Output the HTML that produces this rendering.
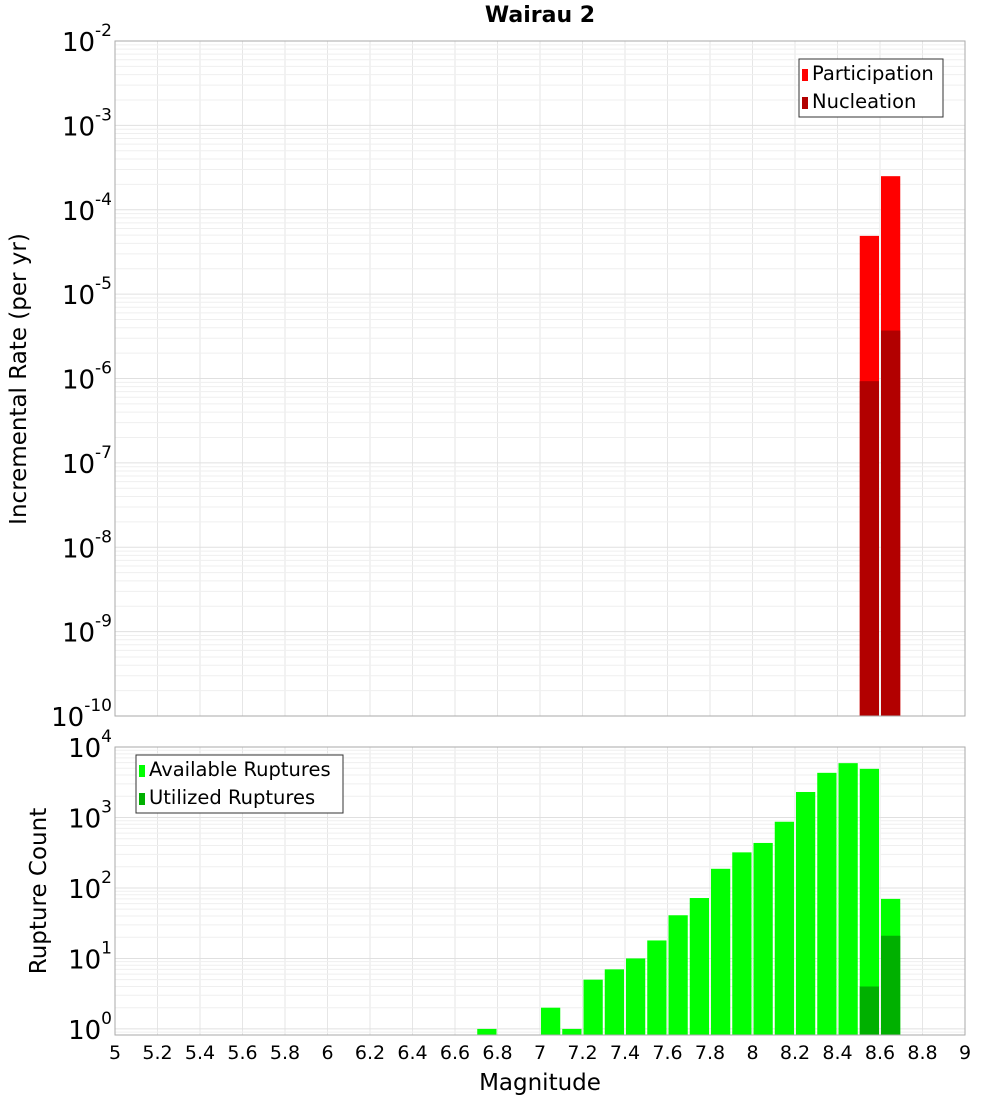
<!DOCTYPE html>
<html><head><meta charset="utf-8"><style>
body{margin:0;background:#fff;font-family:"Liberation Sans","DejaVu Sans",sans-serif}
svg text{font-family:"DejaVu Sans","Liberation Sans",sans-serif}
</style></head><body>
<svg id="c" width="1000" height="1100" xmlns="http://www.w3.org/2000/svg"></svg>
<script>
const topBins = [8.5, 8.6];
const participation = [4.9e-5, 2.5e-4];
const nucleation = [9.3e-7, 3.7e-6];
const botBins = [6.7, 7.0, 7.1, 7.2, 7.3, 7.4, 7.5, 7.6, 7.7, 7.8, 7.9, 8.0, 8.1, 8.2, 8.3, 8.4, 8.5, 8.6];
const available = [1, 2, 1, 5, 7, 10, 18, 41, 72, 187, 320, 435, 870, 2300, 4300, 5900, 4900, 70];
const utilBins = [8.5, 8.6];
const utilized = [4, 21];
const xTicks = ["5","5.2","5.4","5.6","5.8","6","6.2","6.4","6.6","6.8","7","7.2","7.4","7.6","7.8","8","8.2","8.4","8.6","8.8","9"];
const topDecades = [-10,-9,-8,-7,-6,-5,-4,-3,-2];
const botDecades = [0,1,2,3,4];

const NS="http://www.w3.org/2000/svg", svg=document.getElementById('c');
function mk(t,a,p){const e=document.createElementNS(NS,t);for(const k in a)e.setAttribute(k,a[k]);(p||svg).appendChild(e);return e;}
const X0=115,X1=965;
const x=m=>X0+(m-5)/4*(X1-X0);
const T={top:41,bot:716,lo:-10,hi:-2};
const B={top:747,bot:1035,lo:Math.log10(0.82),hi:4};
const yT=v=>T.bot-(Math.log10(v)-T.lo)/(T.hi-T.lo)*(T.bot-T.top);
const yB=v=>B.bot-(Math.log10(v)-B.lo)/(B.hi-B.lo)*(B.bot-B.top);

function grid(P,yf,decs){
  const g=mk('g',{});
  
  
  for(let i=0;i<xTicks.length;i++){const xx=x(+xTicks[i]);mk('line',{x1:xx,x2:xx,y1:P.top,y2:P.bot,stroke:'#e6e6e6','stroke-width':1},g);}
  for(let d=decs[0]-1;d<=decs[decs.length-1];d++){for(let k=1;k<10;k++){const v=k*Math.pow(10,d);const yy=yf(v);if(yy<P.top-0.5||yy>P.bot+0.5)continue;mk('line',{x1:X0,x2:X1,y1:yy,y2:yy,stroke:k==1?'#e0e0e0':'#efefef','stroke-width':1},g);}}
}
grid(T,yT,topDecades);
grid(B,yB,botDecades);

for(let i=0;i<topBins.length;i++){
  const x1=x(topBins[i])+1,w=x(topBins[i]+0.1)-x(topBins[i])-2;
  const r=mk('rect',{x:x1,y:yT(participation[i]),width:w,height:T.bot-yT(participation[i]),fill:'#ff0000'});
  
  
  const n=mk('rect',{x:x1,y:yT(nucleation[i]),width:w,height:T.bot-yT(nucleation[i]),fill:'#b20000'});
  
  
}
for(let i=0;i<botBins.length;i++){
  const x1=x(botBins[i])+1,w=x(botBins[i]+0.1)-x(botBins[i])-2;
  const r=mk('rect',{x:x1,y:yB(available[i]),width:w,height:B.bot-yB(available[i]),fill:'#00ff00'});
  
  
}
for(let i=0;i<utilBins.length;i++){
  const x1=x(utilBins[i])+1,w=x(utilBins[i]+0.1)-x(utilBins[i])-2;
  const r=mk('rect',{x:x1,y:yB(utilized[i]),width:w,height:B.bot-yB(utilized[i]),fill:'#00b000'});
  
  
}
for(const P of [T,B]){const f=mk('rect',{x:X0,y:P.top,width:X1-X0,height:P.bot-P.top,fill:'none',stroke:'#aaaaaa','stroke-width':1});
  
  }

function ylab(yy,d,name){
  const t=mk('text',{x:112,y:yy+10,'text-anchor':'end','font-size':26,fill:'#000'});
  
  
  t.textContent='10';
  const s=mk('tspan',{dy:-15,'font-size':17},t);s.textContent=String(d);
}
for(const d of topDecades){ylab(yT(Math.pow(10,d)),d,'y-tick-label');}
for(const d of botDecades){ylab(yB(Math.pow(10,d)),d,'y-tick-label');}
for(const t of xTicks){const e=mk('text',{x:x(+t),y:1059,'text-anchor':'middle','font-size':19,fill:'#000'});
  
  
  e.textContent=t;}
let e=mk('text',{x:540,y:22,'text-anchor':'middle','font-size':22,'font-weight':'bold'});


e.textContent='Wairau 2';
e=mk('text',{x:540,y:1090,'text-anchor':'middle','font-size':23});


e.textContent='Magnitude';
e=mk('text',{x:0,y:0,'text-anchor':'middle','font-size':23,transform:'translate(26,379) rotate(-90)'});


e.textContent='Incremental Rate (per yr)';
e=mk('text',{x:0,y:0,'text-anchor':'middle','font-size':23,transform:'translate(46,891) rotate(-90)'});


e.textContent='Rupture Count';

function legend(x0,y0,w,items,name){
  const g=mk('g',{});
  
  
  mk('rect',{x:x0,y:y0,width:w,height:58,fill:'#fff',stroke:'#333','stroke-width':1},g);
  items.forEach((it,i)=>{
    const sw=mk('rect',{x:x0+3,y:y0+10+i*28,width:6,height:12,fill:it[1]},g);
    
    
    const t=mk('text',{x:x0+13,y:y0+21+i*28,'font-size':19.5,fill:'#000'},g);
    
    
    t.textContent=it[0];
  });
}
legend(799,59,144,[['Participation','#ff0000'],['Nucleation','#b20000']],'top-legend');
legend(136,755,207,[['Available Ruptures','#00ff00'],['Utilized Ruptures','#00b000']],'bottom-legend');
</script>
</body></html>
